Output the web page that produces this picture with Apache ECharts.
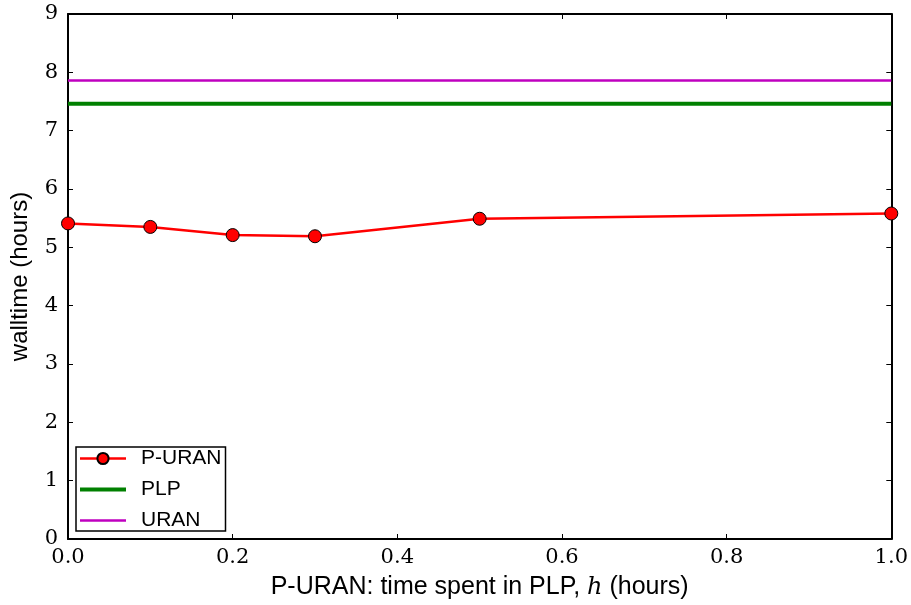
<!DOCTYPE html>
<html>
<head>
<meta charset="utf-8">
<script src="https://cdn.jsdelivr.net/npm/echarts@6/dist/echarts.min.js"></script>
<style>
	html, body { margin: 0; padding: 0; background: #fff; }
	#chart { width: 911px; height: 605px; }
</style>
</head>
<body>
<div id="chart"></div>
<script>
	// P-URAN: walltime vs time spent in PLP
	var hValues = [0.0, 0.1, 0.2, 0.3, 0.5, 1.0]
	var puranTime = [5.41, 5.35, 5.21, 5.19, 5.49, 5.58]
	var plpTime = 7.46
	var uranTime = 7.86
	var xRange = [0, 1]

	var serifFont = '"DejaVu Serif", "Liberation Serif", serif'
	var sansFont = '"Liberation Sans", Arial, sans-serif'

	var chart = echarts.init(document.getElementById('chart'))

	// 坐标轴公共样式：刻度朝内
	function axisBase(show) {
		return {
			axisLine: { show: true, onZero: false, lineStyle: { color: '#000', width: 2 } },
			axisTick: { show: true, inside: true, length: 5, lineStyle: { color: '#000', width: 1 } },
			splitLine: { show: false },
			axisLabel: { show: show }
		}
	}

	var option = {
		animation: false,
		grid: { left: 66, top: 14, right: 19, bottom: 64 },
		xAxis: [
			Object.assign(axisBase(true), {
				type: 'value', min: 0, max: 1, interval: 0.2,
				position: 'bottom',
				name: '{a|P-URAN: time spent in PLP, }{h|h}{a| (hours)}',
				nameLocation: 'middle',
				nameGap: 36,
				nameTextStyle: {
					rich: {
						a: { fontFamily: sansFont, fontSize: 25, color: '#000' },
						h: { fontFamily: serifFont, fontStyle: 'italic', fontSize: 24, color: '#000' }
					}
				},
				axisLabel: {
					show: true, margin: 8, color: '#000', fontFamily: serifFont, fontSize: 21,
					formatter: function (v) { return v.toFixed(1) }
				}
			}),
			Object.assign(axisBase(false), {
				type: 'value', min: 0, max: 1, interval: 0.2, position: 'top'
			})
		],
		yAxis: [
			Object.assign(axisBase(true), {
				type: 'value', min: 0, max: 9, interval: 1,
				position: 'left',
				name: 'walltime (hours)',
				nameLocation: 'middle',
				nameGap: 36,
				nameTextStyle: { fontFamily: sansFont, fontSize: 24, color: '#000' },
				axisLabel: { show: true, margin: 10, color: '#000', fontFamily: serifFont, fontSize: 21 }
			}),
			Object.assign(axisBase(false), {
				type: 'value', min: 0, max: 9, interval: 1, position: 'right'
			})
		],
		legend: {
			orient: 'vertical',
			left: 76,
			bottom: 74,
			padding: [1, 4, 0, 2],
			itemWidth: 46,
			itemHeight: 14,
			itemGap: 10,
			borderColor: '#000',
			borderWidth: 1.5,
			backgroundColor: '#fff',
			textStyle: { fontFamily: sansFont, fontSize: 21, color: '#000', padding: [0, 0, 0, 10] },
			data: [
				{ name: 'P-URAN', lineStyle: { width: 2.5 } },
				{ name: 'PLP', lineStyle: { width: 4 } },
				{ name: 'URAN', lineStyle: { width: 2.5 } }
			]
		},
		series: [
			{
				name: 'P-URAN',
				type: 'line',
				data: hValues.map(function (h, i) { return [h, puranTime[i]] }),
				symbol: 'circle',
				symbolSize: 13,
				itemStyle: { color: '#ff0000', borderColor: '#000', borderWidth: 1 },
				lineStyle: { color: '#ff0000', width: 2.5 },
				z: 5
			},
			{
				name: 'PLP',
				type: 'line',
				data: xRange.map(function (h) { return [h, plpTime] }),
				symbol: 'none',
				// 图例里不画圆点，只留线
				itemStyle: { color: 'rgba(0,0,0,0)', borderWidth: 0 },
				lineStyle: { color: '#008000', width: 4 }
			},
			{
				name: 'URAN',
				type: 'line',
				data: xRange.map(function (h) { return [h, uranTime] }),
				symbol: 'none',
				itemStyle: { color: 'rgba(0,0,0,0)', borderWidth: 0 },
				lineStyle: { color: '#bf00bf', width: 2.5 }
			}
		]
	}

	chart.setOption(option)
</script>
</body>
</html>
